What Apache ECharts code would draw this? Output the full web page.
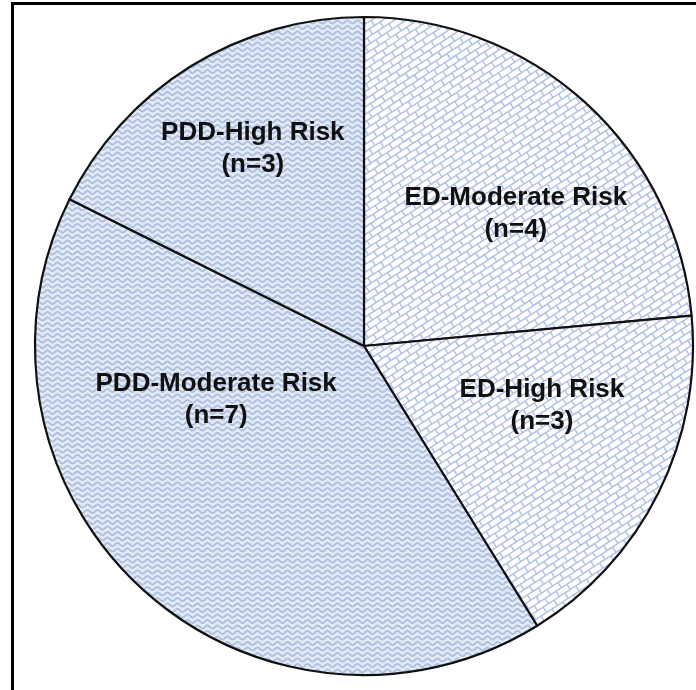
<!DOCTYPE html>
<html>
<head>
<meta charset="utf-8">
<script src="https://cdn.jsdelivr.net/npm/echarts@6/dist/echarts.min.js"></script>
<style>
html,body{margin:0;padding:0;background:#fff;}
#chart{width:696px;height:690px;}
</style>
</head>
<body>
<div id="chart"></div>
<script>
// ---- data ----
const categories = ['ED-Moderate Risk', 'ED-High Risk', 'PDD-Moderate Risk', 'PDD-High Risk'];
const counts = [4, 3, 7, 3];
const groups = ['ED', 'ED', 'PDD', 'PDD'];

// ---- patterns ----
function makeWaves() {
  const c = document.createElement('canvas');
  c.width = 696; c.height = 690;
  const ctx = c.getContext('2d');
  ctx.fillStyle = '#e4ebf7';
  ctx.fillRect(0, 0, c.width, c.height);
  ctx.strokeStyle = '#b0c0e0';
  ctx.lineWidth = 2;
  for (let y0 = 0; y0 < c.height + 10; y0 += 5.5) {
    ctx.beginPath();
    for (let x = 0; x <= c.width; x += 0.5) {
      const y = y0 + 1.5 * Math.sin(2 * Math.PI * x / 10);
      if (x === 0) ctx.moveTo(x, y); else ctx.lineTo(x, y);
    }
    ctx.stroke();
  }
  return c;
}
function makeBricks() {
  const c = document.createElement('canvas');
  c.width = 696; c.height = 690;
  const ctx = c.getContext('2d');
  ctx.fillStyle = '#b2c2e6';
  ctx.fillRect(0, 0, c.width, c.height);
  ctx.save();
  ctx.translate(c.width / 2, c.height / 2);
  ctx.rotate(-33 * Math.PI / 180);
  ctx.fillStyle = '#ffffff';
  const L = 11.5, T = 4.8, g = 1.5;
  const R = 700;
  let j = 0;
  for (let v = -R; v < R; v += T + g, j++) {
    const off = (j % 2) * (L + g) / 2;
    for (let u = -R + off; u < R; u += L + g) {
      ctx.fillRect(u, v, L, T);
    }
  }
  ctx.restore();
  return c;
}
const patterns = {
  ED: { image: makeBricks(), repeat: 'repeat' },
  PDD: { image: makeWaves(), repeat: 'repeat' }
};
const labelOffsets = [[39, -8], [28, -15], [-35, -70], [-23, -55]];

const chart = echarts.init(document.getElementById('chart'), null, { renderer: 'canvas' });
chart.setOption({
  animation: false,
  backgroundColor: '#ffffff',
  graphic: [
    { type: 'line', shape: { x1: 12.5, y1: 2, x2: 12.5, y2: 690 }, style: { stroke: '#000', lineWidth: 3 } },
    { type: 'line', shape: { x1: 11, y1: 3.5, x2: 696, y2: 3.5 }, style: { stroke: '#000', lineWidth: 3 } }
  ],
  series: [{
    type: 'pie',
    center: [364, 346],
    radius: [0, 329],
    startAngle: 90,
    clockwise: true,
    avoidLabelOverlap: false,
    silent: true,
    itemStyle: { borderColor: '#111', borderWidth: 2.2 },
    label: {
      show: true,
      position: 'inside',
      formatter: '{b}\n(n={c})',
      color: '#111',
      fontFamily: '"Liberation Sans", Arial, sans-serif',
      fontWeight: 'bold',
      fontSize: 26,
      lineHeight: 32,
      align: 'center'
    },
    labelLine: { show: false },
    data: categories.map((name, i) => ({
      name: name,
      value: counts[i],
      itemStyle: { color: patterns[groups[i]] },
      label: { offset: labelOffsets[i] }
    }))
  }]
});
</script>
</body>
</html>
